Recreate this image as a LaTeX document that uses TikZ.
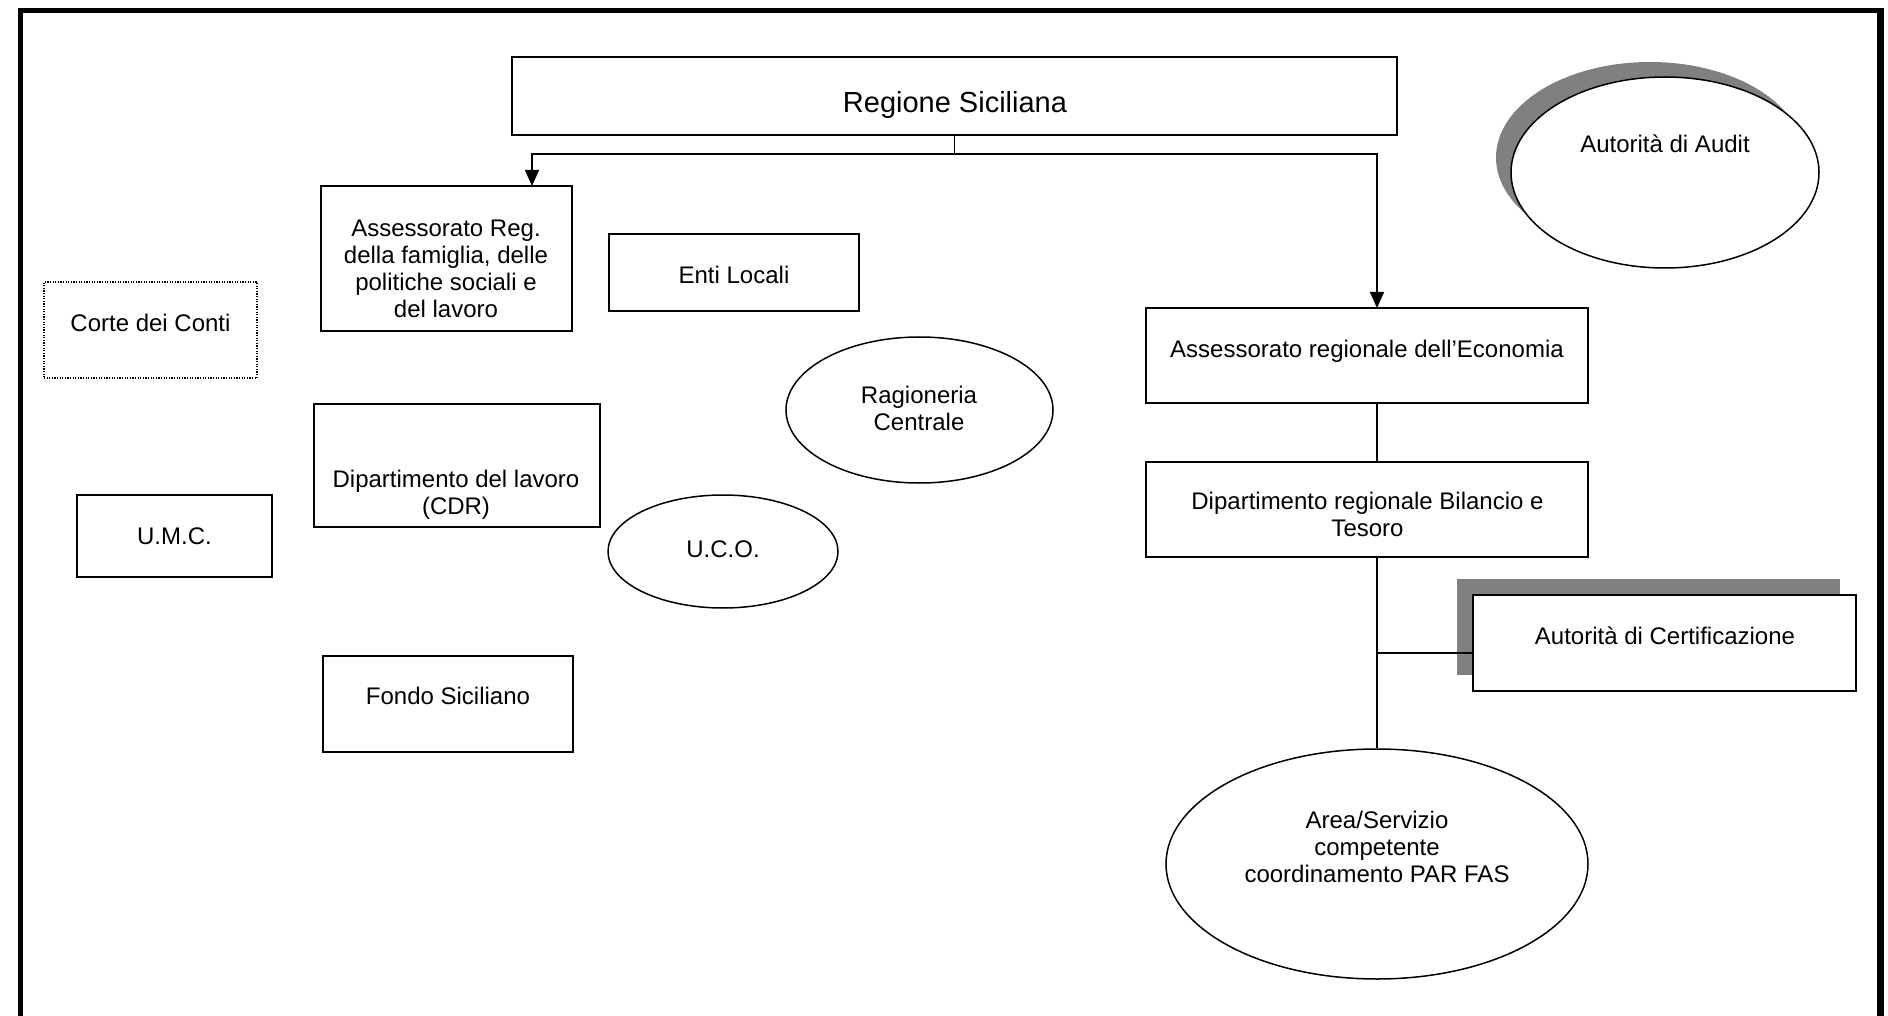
\documentclass[tikz,border=0pt]{standalone}
\usepackage{fontspec}
\setmainfont{Liberation Sans}
\usetikzlibrary{arrows.meta,shapes.geometric}
\begin{document}
\begin{tikzpicture}[x=1pt,y=-1pt,
  box/.style={draw=black, line width=1.7pt, fill=white, inner sep=0pt, rectangle},
  dotbox/.style={draw=black, line width=1.1pt, dash pattern=on 1.2pt off 1.4pt, fill=white, inner sep=0pt, rectangle},
  oval/.style={draw=black, line width=1.5pt, fill=white, inner sep=0pt, ellipse},
  shadebox/.style={fill=black!50, draw=none, inner sep=0pt, rectangle},
  shadeoval/.style={fill=black!50, draw=none, inner sep=0pt, ellipse},
  txt/.style={inner sep=0pt, align=center, anchor=north, font=\fontsize{24}{27}\selectfont},
  bigtxt/.style={inner sep=0pt, align=center, anchor=north, font=\fontsize{29}{33}\selectfont},
  conn/.style={line width=1.5pt},
  arr/.style={line width=1.5pt, -{Triangle[length=16pt,width=14pt]}}
]
\useasboundingbox (0,0) rectangle (1888,1016);

% frame (open at the bottom)
\draw[line width=5pt] (18,10.8) -- (1884,10.8);
\draw[line width=4.4pt] (20.5,8.5) -- (20.5,1016);
\draw[line width=7pt] (1880.4,8.5) -- (1880.4,1016);

% shadows
\node[shadeoval, minimum width=308pt, minimum height=191pt] (auditsh) at (1650,157.5) {};
\node[shadebox, minimum width=383pt, minimum height=96pt] (certsh) at (1648.5,627) {};

% nodes
\node[box, minimum width=885pt, minimum height=78pt] (reg) at (954.5,96) {};
\node[box, minimum width=251pt, minimum height=145pt] (assreg) at (446.5,258.5) {};
\node[box, minimum width=250pt, minimum height=77pt] (enti) at (734,272.5) {};
\node[dotbox, minimum width=213pt, minimum height=96pt] (corte) at (150.5,330) {};
\node[oval, minimum width=267pt, minimum height=146pt] (rag) at (919.5,410) {};
\node[box, minimum width=286pt, minimum height=123pt] (diplav) at (457,465.5) {};
\node[box, minimum width=195pt, minimum height=82pt] (umc) at (174.5,536) {};
\node[oval, minimum width=230pt, minimum height=113pt] (uco) at (723,551.5) {};
\node[box, minimum width=250pt, minimum height=96pt] (fondo) at (448,704) {};
\node[box, minimum width=442pt, minimum height=95pt] (econ) at (1367,355.5) {};
\node[box, minimum width=442pt, minimum height=95pt] (bil) at (1367,509.5) {};
\node[oval, minimum width=308pt, minimum height=191pt] (audit) at (1665,172.5) {};
\node[oval, minimum width=422pt, minimum height=230pt] (area) at (1377,864) {};

% connectors
\coordinate (j1) at (954.5,154);
\coordinate (aL) at (532,186);
\coordinate (aR) at (1377,308);
\coordinate (br) at (1377,653);
\draw[conn] (reg.south) -- (j1);
\draw[arr] (j1) -| (aL);
\draw[arr] (j1) -| (aR);
\draw[conn] (econ.south -| aR) -- (bil.north -| aR);
\draw[conn] (bil.south -| aR) -- (area.north);
\draw[conn] (br) -- (br -| 1473,0);

\node[box, minimum width=383pt, minimum height=96pt] (cert) at (1664.5,643) {};

% texts
\node[bigtxt] (reg-t) at (955,88.9) {\strut Regione Siciliana};
\node[txt] (assreg-t) at (446,217.1) {\strut Assessorato Reg.\\della famiglia, delle\\politiche sociali e\\del lavoro};
\node[txt] (enti-t) at (734,264.1) {\strut Enti Locali};
\node[txt] (corte-t) at (150.5,312.1) {\strut Corte dei Conti};
\node[txt] (rag-t) at (919,384.1) {\strut Ragioneria\\Centrale};
\node[txt] (diplav-t) at (456,468.1) {\strut Dipartimento del lavoro\\(CDR)};
\node[txt] (umc-t) at (174.5,525.1) {\strut U.M.C.};
\node[txt] (uco-t) at (723,538.1) {\strut U.C.O.};
\node[txt] (fondo-t) at (448,685.1) {\strut Fondo Siciliano};
\node[txt] (econ-t) at (1367,338.1) {\strut Assessorato regionale dell’Economia};
\node[txt] (bil-t) at (1367.5,490.1) {\strut Dipartimento regionale Bilancio e\\Tesoro};
\node[txt] (audit-t) at (1665,133.1) {\strut Autorità di Audit};
\node[txt] (cert-t) at (1665,625.1) {\strut Autorità di Certificazione};
\node[txt] (area-t) at (1377,809.1) {\strut Area/Servizio\\competente\\coordinamento PAR FAS};
\end{tikzpicture}
\end{document}
